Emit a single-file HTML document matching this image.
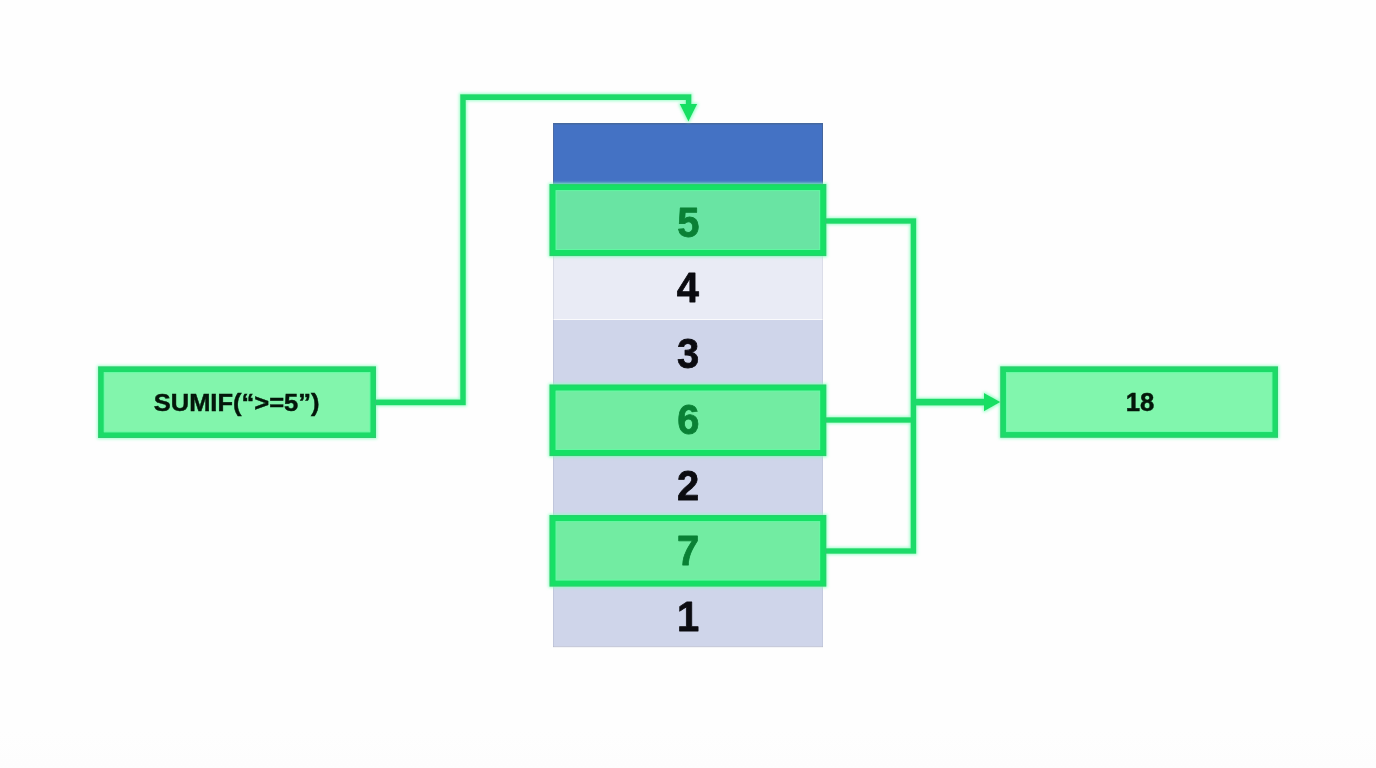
<!DOCTYPE html>
<html>
<head>
<meta charset="utf-8">
<title>SUMIF diagram</title>
<style>
  html, body { margin: 0; padding: 0; background: #fefefe; }
  body { width: 1376px; height: 768px; overflow: hidden; position: relative;
         font-family: "Liberation Sans", sans-serif; }
  svg { position: absolute; left: 0; top: 0; display: block; }
  text { font-family: "Liberation Sans", sans-serif; font-weight: bold; text-anchor: middle; }
</style>
</head>
<body>
<svg width="1376" height="768" viewBox="0 0 1376 768">
  <defs>
    <linearGradient id="bg" x1="0" y1="0" x2="0" y2="1">
      <stop offset="0" stop-color="#fefefe"/>
      <stop offset="0.95" stop-color="#fefefe"/>
      <stop offset="1" stop-color="#fdfdfd"/>
    </linearGradient>
    <filter id="glow" filterUnits="userSpaceOnUse" x="0" y="0" width="1376" height="768">
      <feMorphology in="SourceAlpha" operator="dilate" radius="1.3" result="d"/>
      <feGaussianBlur in="d" stdDeviation="1.5" result="a"/>
      <feFlood flood-color="#8affc0" flood-opacity="0.85"/>
      <feComposite in2="a" operator="in" result="g"/>
      <feMerge><feMergeNode in="g"/><feMergeNode in="SourceGraphic"/></feMerge>
    </filter>
  </defs>
  <rect x="0" y="0" width="1376" height="768" fill="url(#bg)"/>

  <!-- column -->
  <rect x="553" y="123" width="270" height="62" fill="#4472c4"/>
  <rect x="553" y="123" width="270" height="1.5" fill="#44689f"/>
  <rect x="553" y="123" width="1" height="61" fill="#4a6aa6"/>
  <rect x="822" y="123" width="1" height="61" fill="#44659d"/>
  <rect x="553" y="256" width="270" height="63.2" fill="#e9ebf5"/>
  <rect x="553" y="320" width="270" height="66" fill="#cfd5ea"/>
  <rect x="553" y="455" width="270" height="61" fill="#cfd5ea"/>
  <rect x="553" y="586" width="270" height="61" fill="#cfd5ea"/>
  <rect x="553" y="646" width="270" height="1.2" fill="#c8cbdb"/>
  <rect x="553" y="256" width="1" height="391" fill="#787c96" fill-opacity="0.16"/>
  <rect x="822" y="256" width="1" height="391" fill="#787c96" fill-opacity="0.12"/>

  <!-- green highlight boxes + connectors (single glow layer) -->
  <g filter="url(#glow)">
    <g stroke="#16e065" stroke-width="6.2">
      <rect x="552.6" y="187.1" width="270.6" height="65.9" fill="#69e4a3"/>
      <rect x="552.6" y="387.6" width="270.6" height="65.4" fill="#72eca2"/>
      <rect x="552.6" y="518.1" width="270.6" height="65.4" fill="#72eca2"/>
    </g>
    <g stroke="#1bdb68" stroke-width="5.7">
      <rect x="100.95" y="369.25" width="272.2" height="65.9" fill="#82f5ac"/>
      <rect x="1003.1" y="369.25" width="272.05" height="65.65" fill="#81f6ad"/>
    </g>
    <g fill="none" stroke="#1fdb69" stroke-width="5.6" stroke-linejoin="miter">
      <path d="M375 402.4 H463 V97.1 H688.6 V106"/>
      <path d="M825.5 221 H913.4 V551 H825.5"/>
      <path d="M825.5 420 H913.4"/>
      <path d="M913.4 402.1 H986" stroke-width="6.6"/>
      <polygon points="679.7,104 697.2,104 688.45,121.6" fill="#17df64" stroke="none"/>
      <polygon points="984,392.9 984,411.3 1000.4,402.1" fill="#17df64" stroke="none"/>
    </g>
  </g>

  <!-- border nuance: darker outer edge + bright inner highlight -->
  <g fill="none" stroke-width="1">
    <rect x="550.10" y="184.60" width="275.60" height="70.90" stroke="#3fbf78" stroke-opacity="0.5"/>
    <rect x="556.10" y="190.60" width="263.60" height="58.90" stroke="#62fda4" stroke-opacity="0.75"/>
    <rect x="550.10" y="385.10" width="275.60" height="70.40" stroke="#3fbf78" stroke-opacity="0.5"/>
    <rect x="556.10" y="391.10" width="263.60" height="58.40" stroke="#62fda4" stroke-opacity="0.75"/>
    <rect x="550.10" y="515.60" width="275.60" height="70.40" stroke="#3fbf78" stroke-opacity="0.5"/>
    <rect x="556.10" y="521.60" width="263.60" height="58.40" stroke="#62fda4" stroke-opacity="0.75"/>
    <rect x="98.60" y="366.90" width="276.90" height="70.60" stroke="#3fbf78" stroke-opacity="0.5"/>
    <rect x="104.30" y="372.60" width="265.50" height="59.20" stroke="#62fda4" stroke-opacity="0.75"/>
    <rect x="1000.75" y="366.90" width="276.75" height="70.35" stroke="#3fbf78" stroke-opacity="0.5"/>
    <rect x="1006.45" y="372.60" width="265.35" height="58.95" stroke="#62fda4" stroke-opacity="0.75"/>
  </g>

  <!-- digits -->
  <g font-size="43.4" stroke-width="0.8" stroke-linejoin="round" opacity="0.999">
    <text transform="translate(688.4 236.6) scale(0.92 1)" fill="#0a8035" stroke="#0a8035">5</text>
    <text transform="translate(687.8 302.1) scale(0.92 1)" fill="#0b0b10" stroke="#0b0b10">4</text>
    <text transform="translate(688.1 367.8) scale(0.92 1)" fill="#0b0b10" stroke="#0b0b10">3</text>
    <text transform="translate(688.4 433.5) scale(0.92 1)" fill="#0a8035" stroke="#0a8035">6</text>
    <text transform="translate(688.2 499.5) scale(0.92 1)" fill="#0b0b10" stroke="#0b0b10">2</text>
    <text transform="translate(688.1 564.6) scale(0.92 1)" fill="#0a8035" stroke="#0a8035">7</text>
    <text transform="translate(688.1 630.6) scale(0.92 1)" fill="#0b0b10" stroke="#0b0b10">1</text>
  </g>
  <g opacity="0.999"><text transform="translate(236.6 411.3) scale(1.037 1)" font-size="24.6" fill="#04160a" stroke="#04160a" stroke-width="0.45">SUMIF(“&gt;=5”)</text>
  <text x="1140" y="411.1" font-size="25.7" fill="#04160a" stroke="#04160a" stroke-width="0.45">18</text></g>
</svg>
</body>
</html>
